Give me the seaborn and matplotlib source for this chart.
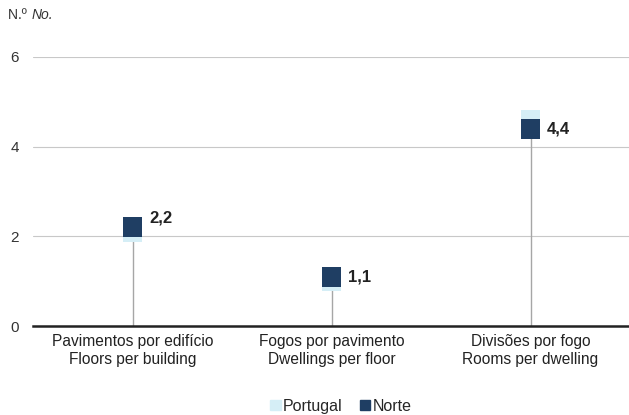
import matplotlib
matplotlib.use("Agg")
import matplotlib.pyplot as plt
import seaborn as sns
import pandas as pd
from matplotlib.patches import Patch

categories = ["Pavimentos por edifício\nFloors per building",
              "Fogos por pavimento\nDwellings per floor",
              "Divisões por fogo\nRooms per dwelling"]
portugal = [2.1, 1.0, 4.6]
norte = [2.2, 1.1, 4.4]
norte_labels = ["2,2", "1,1", "4,4"]
yticks = [0, 2, 4, 6]

light = "#d5eef6"
dark = "#1f3e63"

sns.set_theme(style="white")
plt.rcParams["font.family"] = ["Liberation Sans", "DejaVu Sans"]

fig = plt.figure(figsize=(6.29, 4.15), dpi=100)
ax = fig.add_axes([33 / 629, 1 - 326 / 415, 597 / 629, 269 / 415])

df = pd.DataFrame({"cat": categories * 2,
                   "value": portugal + norte,
                   "serie": ["Portugal"] * 3 + ["Norte"] * 3})

# stems from zero up to the Norte value
for i, v in enumerate(norte):
    ax.plot([i, i], [0, v], color="#a6a6a6", lw=1, zorder=1)

sns.scatterplot(data=df, x="cat", y="value", hue="serie",
                palette={"Portugal": light, "Norte": dark},
                marker="s", s=205, linewidth=0, ax=ax, zorder=3, legend=False)

label_dy = [7, 0, 0]
for i, (v, t) in enumerate(zip(norte, norte_labels)):
    ax.annotate(t, (i, v), xytext=(12, label_dy[i]), textcoords="offset points",
                ha="left", va="center", fontsize=12, fontweight="bold",
                color="#222222")

ax.set_xlim(-0.5, 2.5)
ax.set_ylim(0, 6)
ax.set_yticks(yticks)
ax.set_yticklabels([str(t) for t in yticks], fontsize=11, color="#333333")
ax.tick_params(axis="x", labelsize=11.2, colors="#222222", length=0, pad=6)
ax.tick_params(axis="y", length=0, pad=10)
for lbl in ax.get_xticklabels():
    lbl.set_linespacing(1.25)
ax.set_xlabel("")
ax.set_ylabel("")
ax.grid(axis="y", color="#c8c8c8", lw=0.8)
ax.set_axisbelow(True)
for s in ["top", "right", "left"]:
    ax.spines[s].set_visible(False)
ax.spines["bottom"].set_color("#222222")
ax.spines["bottom"].set_linewidth(1.8)

fig.text(8 / 629, 1 - 15 / 415, "N.º ", fontsize=10, color="#333333", va="center")
fig.text(32 / 629, 1 - 15 / 415, "No.", fontsize=10, color="#333333",
         style="italic", va="center")

handles = [Patch(color=light, label="Portugal"), Patch(color=dark, label="Norte")]
fig.legend(handles=handles, loc="center", bbox_to_anchor=(341 / 629, 1 - 406 / 415),
           ncol=2, frameon=False, fontsize=11.5, handlelength=0.65, handleheight=0.65,
           handletextpad=0.15, columnspacing=1.1, borderpad=0)

fig.savefig("out.png", dpi=100)
